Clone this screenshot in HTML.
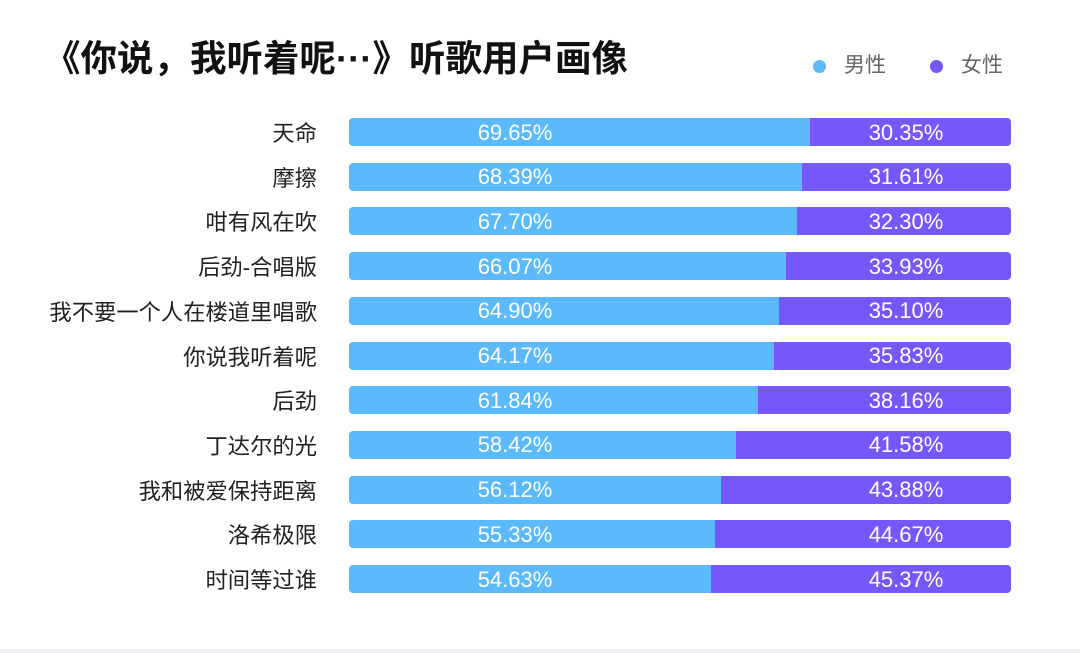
<!DOCTYPE html>
<html><head><meta charset="utf-8"><style>
body{margin:0;width:1080px;height:653px;background:#fff;overflow:hidden;font-family:"Liberation Sans","Noto Sans CJK SC",sans-serif;position:relative}
.t{position:absolute;left:44px;top:35px;font-size:36.5px;line-height:48px;font-weight:bold;color:#111;white-space:nowrap}
.lg{position:absolute;top:51px;font-size:21px;line-height:30px;color:#666}
.dot{position:absolute;width:13px;height:13px;border-radius:50%;top:60px}
.row{position:absolute;left:0;width:1080px;height:28px}
.lab{position:absolute;right:763px;top:0;height:28px;display:flex;align-items:center;font-size:22.3px;color:#222;white-space:nowrap}
.bar{position:absolute;left:349px;width:662px;height:28px;border-radius:4px;overflow:hidden}
.m{position:absolute;left:0;top:0;height:28px;background:#5cb9fb}
.f{position:absolute;right:0;top:0;height:28px;background:#7658fa}
.v{position:absolute;top:0;width:120px;height:28px;display:flex;align-items:center;justify-content:center;color:#fff;font-size:22px;padding-top:1px;box-sizing:border-box}
.bot{position:absolute;left:0;right:0;bottom:0;height:4px;background:#eef0f5}
</style></head><body>
<div class="t">《你说，我听着呢···》听歌用户画像</div>
<div class="dot" style="left:813px;background:#5cb9fb"></div><div class="lg" style="left:844px">男性</div>
<div class="dot" style="left:930px;background:#7658fa"></div><div class="lg" style="left:961px">女性</div>
<div id="c"></div>
<div class="bot"></div>
<script>
var d=[["天命",69.65],["摩擦",68.39],["咁有风在吹",67.70],["后劲-合唱版",66.07],["我不要一个人在楼道里唱歌",64.90],["你说我听着呢",64.17],["后劲",61.84],["丁达尔的光",58.42],["我和被爱保持距离",56.12],["洛希极限",55.33],["时间等过谁",54.63]];
var h="";d.forEach(function(r,i){var y=118+i*44.7;var f=(100-r[1]).toFixed(2);var w=r[1]*6.62;
h+='<div class="row" style="top:'+y+'px"><div class="lab">'+r[0]+'</div><div class="bar"><div class="m" style="width:'+w+'px"></div><div class="f" style="width:'+(662-w)+'px"></div><div class="v" style="left:106px">'+r[1].toFixed(2)+'%</div><div class="v" style="left:497px">'+f+'%</div></div></div>';});
document.getElementById("c").innerHTML=h;
</script>
</body></html>
